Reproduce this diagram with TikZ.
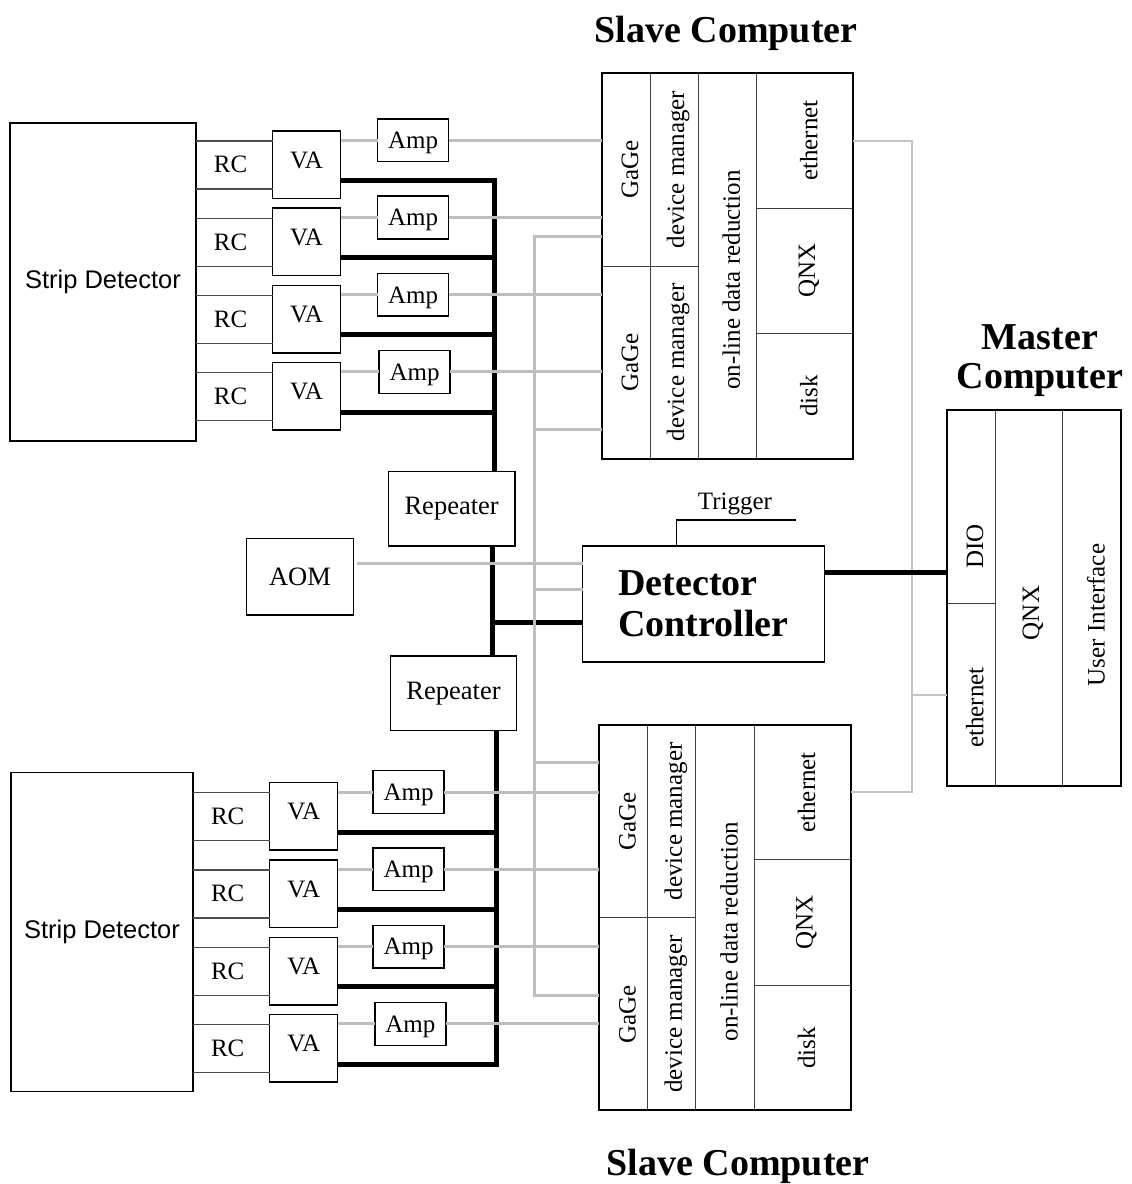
\documentclass[tikz,border=0pt]{standalone}
\usepackage{fontspec}
\setmainfont{Liberation Serif}
\newfontfamily\sdfont{Liberation Sans}
\usetikzlibrary{positioning}

\begin{document}
\begin{tikzpicture}[
  x=1pt, y=-1pt,
  every node/.style={font=\fontsize{25}{30}\selectfont, inner sep=0pt, outer sep=0pt},
  box/.style={draw=black, line width=1.5pt, anchor=north west},
  vabox/.style={box, minimum width=68pt, minimum height=67.5pt, text depth=10pt},
  ampbox/.style={box, minimum width=71pt, minimum height=42.7pt, text depth=0pt},
  cell/.style={draw=black!75, line width=1pt, anchor=north west},
  frame/.style={draw=black, line width=2pt},
  vtext/.style={xshift=4pt, rotate=90},
  title/.style={font=\fontsize{38}{39}\selectfont\bfseries, align=center},
  bus/.style={draw=black, line width=5pt},
  sig/.style={draw=black!25, line width=3pt},
  eth/.style={draw=black!23, line width=2pt},
  rcline/.style={draw=black!70, line width=1.3pt},
  wire/.style={draw=black, line width=1.5pt}
]
\useasboundingbox (0,0) rectangle (1132,1184);

% Titles
\node[title, anchor=base] (st1) at (726,42) {Slave Computer};
\node[title, anchor=base] (st2) at (738,1175) {Slave Computer};
\node[title] (mt) at (1040,361) {Master\\Computer};

% Slave computers
\foreach \k/\sx/\sy in {1/601.7/73.3, 2/599.3/725}{
  \node[cell, minimum width=48.5pt, minimum height=192.7pt] (s\k-ga) at (\sx,\sy) {};
  \node[cell, minimum width=48.5pt, minimum height=192.7pt] (s\k-gb) at (s\k-ga.south west) {};
  \node[cell, minimum width=48pt, minimum height=192.7pt] (s\k-da) at (s\k-ga.north east) {};
  \node[cell, minimum width=48pt, minimum height=192.7pt] (s\k-db) at (s\k-da.south west) {};
  \node[cell, minimum width=58.3pt, minimum height=385.4pt] (s\k-odr) at (s\k-da.north east) {};
  \node[cell, minimum width=96.7pt, minimum height=134.7pt] (s\k-eth) at (s\k-odr.north east) {};
  \node[cell, minimum width=96.7pt, minimum height=125.6pt] (s\k-qnx) at (s\k-eth.south west) {};
  \node[cell, minimum width=96.7pt, minimum height=125.1pt] (s\k-disk) at (s\k-qnx.south west) {};
  \draw[frame] (s\k-ga.north west) rectangle (s\k-disk.south east);
  \node[vtext] (l\k-ga) at (s\k-ga) {GaGe};
  \node[vtext] (l\k-gb) at (s\k-gb) {GaGe};
  \node[vtext] (l\k-da) at (s\k-da) {device manager};
  \node[vtext] (l\k-db) at (s\k-db) {device manager};
  \node[yshift=-14pt, vtext] (l\k-odr) at (s\k-odr) {on-line data reduction};
  \node[vtext] (l\k-eth) at (s\k-eth) {ethernet};
  \node[vtext] (l\k-qnx) at (s\k-qnx) {QNX};
  \node[vtext] (l\k-disk) at (s\k-disk) {disk};
}

% Master computer
\node[cell, minimum width=48.3pt, minimum height=193.3pt] (m-dio) at (946.7,410) {};
\node[cell, minimum width=48.3pt, minimum height=182.7pt] (m-eth) at (m-dio.south west) {};
\node[cell, minimum width=67.7pt, minimum height=376pt] (m-qnx) at (m-dio.north east) {};
\node[cell, minimum width=58.3pt, minimum height=376pt] (m-ui) at (m-qnx.north east) {};
\draw[frame] (m-dio.north west) rectangle (m-ui.south east);
\node[vtext] (lm-dio) at ([yshift=-40pt]m-dio.center) {DIO};
\node[vtext] (lm-eth) at ([yshift=-13pt]m-eth.center) {ethernet};
\node[vtext] (lm-qnx) at ([yshift=-15pt]m-qnx.center) {QNX};
\node[vtext] (lm-ui) at ([yshift=-17pt]m-ui.center) {User Interface};

% Detectors, repeaters, controller
\node[box, minimum width=186pt, minimum height=318pt, font=\sdfont\fontsize{25.5}{30}\selectfont] (sd1) at (10,123) {Strip Detector};
\node[box, minimum width=182pt, minimum height=319pt, font=\sdfont\fontsize{25.5}{30}\selectfont] (sd2) at (11,772.7) {Strip Detector};
\node[box, minimum width=126.7pt, minimum height=74.3pt, font=\fontsize{26.5}{30}\selectfont] (rep1) at (388.3,471.7) {Repeater};
\node[box, minimum width=126.4pt, minimum height=74.7pt, font=\fontsize{26.5}{30}\selectfont] (rep2) at (390.3,656) {Repeater};
\node[box, minimum width=106.6pt, minimum height=76.7pt, font=\fontsize{26.5}{30}\selectfont] (aom) at (246.7,538.3) {AOM};
\node[box, minimum width=241.6pt, minimum height=116pt, align=left, font=\fontsize{38}{41.3}\selectfont\bfseries] (dc) at (582.7,546) {Detector\\Controller};

% Trigger
\node[anchor=base] (trig) at (735,509.3) {Trigger};
\coordinate (trgend) at (796,520);
\draw[wire] ([xshift=-26.8pt]dc.north) |- (trgend);

% Front-end rows: RC, VA, Amp
\foreach \i/\sd/\vx/\ax/\vy in {1/1/272.5/377.5/131, 2/1/272.5/377.5/208.2, 3/1/272.5/377.5/285.4, 4/1/272.5/379/362.6,
                                 5/2/269.7/373/782.7, 6/2/269.7/373/860, 7/2/269.7/373/937.3, 8/2/269.7/374.8/1014.6}{
  \node[vabox] (va\i) at (\vx,\vy) {VA};
  \node[ampbox] (amp\i) at (\ax,\vy-12) {Amp};
  \node (rc\i) at ([xshift=-42pt]va\i.west) {RC};
  \draw[rcline] ([yshift=-10pt]va\i.north west) -- ([yshift=-10pt]va\i.north west -| sd\sd.east);
  \draw[rcline] ([yshift=9.5pt]va\i.south west) -- ([yshift=9.5pt]va\i.south west -| sd\sd.east);
  \coordinate (st\i) at ([yshift=18pt]va\i.south east);
}

% Control bus
\coordinate (bt) at ([xshift=42.5pt]rep1.north);
\coordinate (bm) at ([xshift=41pt]rep1.south);
\coordinate (bb) at ([xshift=42.7pt]rep2.south);
\draw[bus] (st1) -| (bt);
\foreach \i in {2,3,4} \draw[bus] (st\i) -- (st\i -| bt);
\draw[bus] (bm) -- (bm |- rep2.north);
\draw[bus] ([yshift=-18pt]dc.west) -- ([yshift=-18pt]dc.west -| bm);
\draw[bus] (bb) |- (st8);
\foreach \i in {5,6,7} \draw[bus] (st\i) -- (st\i -| bb);

% Ethernet
\coordinate (ex) at (911.5,460);
\draw[eth] (s1-eth.east) -- (s1-eth.east -| ex) -- (s2-eth.east -| ex) -- (s2-eth.east);
\draw[eth] (m-eth.west -| ex) -- (m-eth.west);
\draw[bus] ([yshift=32pt]dc.east) -- ([yshift=32pt]dc.east -| m-dio.west);

% Analog signals
\foreach \i/\k in {1/1,2/1,3/1,4/1,5/2,6/2,7/2,8/2}{
  \draw[sig] (amp\i.west) -- (amp\i.west -| va\i.east);
  \draw[sig] (amp\i.east) -- (amp\i.east -| s\k-ga.west);
}
\coordinate (gt) at (534.5,236.7);
\coordinate (gb) at (534.5,995.5);
\coordinate (g1) at (534.5,429.3);
\coordinate (g2) at (534.5,589);
\coordinate (g3) at (534.5,762.7);
\draw[sig] (gt -| s1-ga.west) -- (gt) -- (gb) -- (gb -| s2-gb.west);
\draw[sig] (g1) -- (g1 -| s1-gb.west);
\draw[sig] (g2) -- (g2 -| dc.west);
\draw[sig] (g3) -- (g3 -| s2-ga.west);
\draw[sig] ([xshift=4pt, yshift=13.4pt]aom.east) -- ([yshift=13.4pt]aom.east -| dc.west);
\end{tikzpicture}
\end{document}
